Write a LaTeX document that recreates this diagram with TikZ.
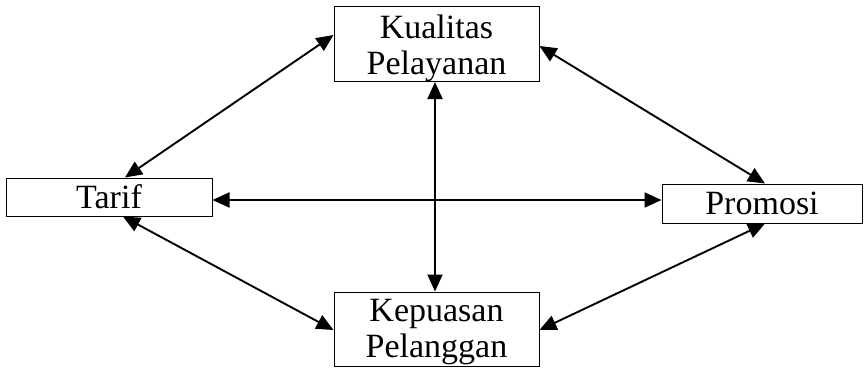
\documentclass[tikz,border=0pt]{standalone}
\usepackage{fontspec}
\setmainfont{Liberation Serif}
\usetikzlibrary{arrows.meta}
\begin{document}
\begin{tikzpicture}[x=1pt,y=-1pt,
  box/.style={draw,line width=1pt,inner sep=0pt},
  txt/.style={inner sep=0pt,align=center,font=\fontsize{34}{36}\selectfont},
  link/.style={line width=1.9pt,{Triangle[length=17pt,width=15pt]}-{Triangle[length=17pt,width=15pt]}}]
\useasboundingbox (0,0) rectangle (865,368);
\node[box,minimum width=205pt,minimum height=75pt] (K) at (436.5,44) {};
\node[txt] (Kt) at ([yshift=-4pt]K.center) {Kualitas\\Pelayanan};
\node[box,minimum width=206pt,minimum height=38pt] (T) at (109,197) {};
\node[txt] (Tt) at (T.center) {Tarif};
\node[box,minimum width=200pt,minimum height=39pt] (P) at (762,203.5) {};
\node[txt] (Pt) at (P.center) {Promosi};
\node[box,minimum width=205pt,minimum height=74pt] (S) at (436.5,329) {};
\node[txt] (St) at ([yshift=-3pt]S.center) {Kepuasan\\Pelanggan};
\draw[link] ([yshift=9pt]K.west) -- ([xshift=16pt]T.north);
\draw[link] ([yshift=-2pt]K.east) -- ([xshift=3pt]P.north);
\draw[link] ([yshift=-3pt]T.east) -- ([yshift=3.5pt]P.west);
\draw[link] ([xshift=-1.5pt]K.south) -- ([xshift=-1.5pt]S.north);
\draw[link] ([xshift=14pt]T.south) -- ([yshift=-1pt]S.west);
\draw[link] ([yshift=-1pt]S.east) -- ([xshift=3pt]P.south);
\end{tikzpicture}
\end{document}
